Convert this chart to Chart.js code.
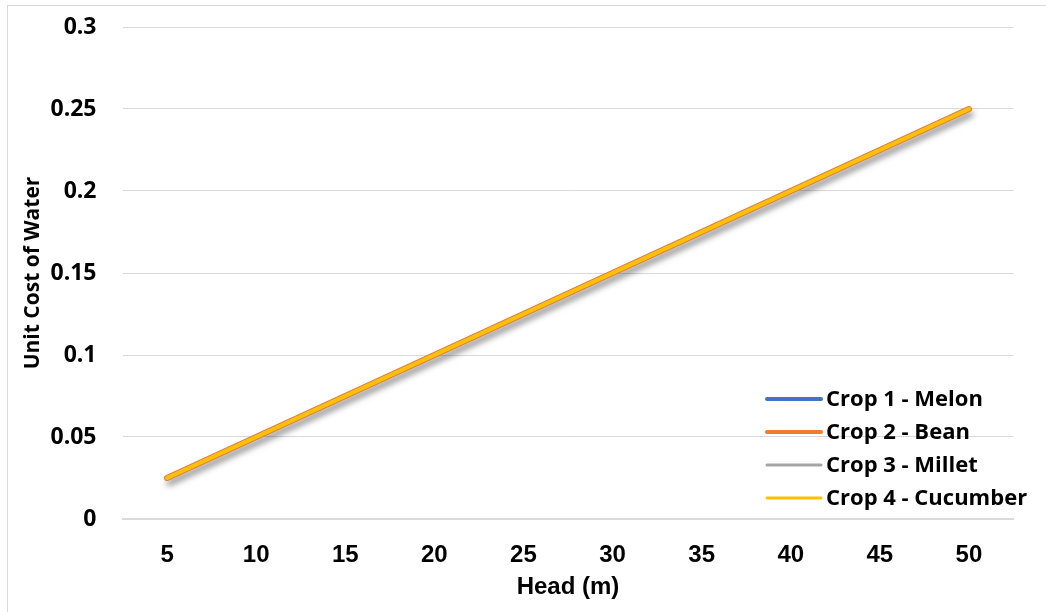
<!DOCTYPE html>
<html>
<head>
<meta charset="utf-8">
<script src="https://cdn.jsdelivr.net/npm/chart.js@4"></script>
<style>
  html, body { margin: 0; padding: 0; background: #fff; }
  #wrap { position: absolute; left: 0; top: 0; width: 1046px; height: 612px; overflow: hidden; }
  #frame { position: absolute; left: 7px; top: 5px; width: 1050px; height: 620px; border: 1px solid #d9d9d9; box-sizing: border-box; }
  canvas { position: absolute; left: 0; top: 0; }
</style>
</head>
<body>
<div id="wrap">
  <div id="frame"></div>
  <canvas id="c" width="1046" height="612"></canvas>
</div>
<script>
const heads = ["5", "10", "15", "20", "25", "30", "35", "40", "45", "50"];
const melon = [0.025, 0.05, 0.075, 0.1, 0.125, 0.15, 0.175, 0.2, 0.225, 0.25];
const bean = [0.025, 0.05, 0.075, 0.1, 0.125, 0.15, 0.175, 0.2, 0.225, 0.25];
const millet = [0.025, 0.05, 0.075, 0.1, 0.125, 0.15, 0.175, 0.2, 0.225, 0.25];
const cucumber = [0.025, 0.05, 0.075, 0.1, 0.125, 0.15, 0.175, 0.2, 0.225, 0.25];
const seriesNames = ["Crop 1 - Melon", "Crop 2 - Bean", "Crop 3 - Millet", "Crop 4 - Cucumber"];
const yTicks = [0, 0.05, 0.1, 0.15, 0.2, 0.25, 0.3];

const colors = ["#4472C4", "#ED7D31", "#A5A5A5", "#FFC000"];
const widths = [5, 6, 4, 4];
const legendWidths = [4, 4, 3, 3];
const narrowFont = "'Liberation Sans Narrow', 'Arial Narrow', 'Liberation Sans', sans-serif";
const mainFont = "'Open Sans', Lato, sans-serif";

const shadowPlugin = {
  id: 'shadow',
  beforeDatasetDraw(chart, args) {
    if (args.index === 0) {
      const ctx = chart.ctx;
      ctx.save();
      ctx.shadowColor = 'rgba(0,0,0,0.5)';
      ctx.shadowBlur = 6;
      ctx.shadowOffsetX = 2;
      ctx.shadowOffsetY = 5;
    }
  },
  afterDatasetDraw(chart, args) {
    if (args.index === 0) chart.ctx.restore();
  }
};

const legendPlugin = {
  id: 'insideLegend',
  afterDraw(chart) {
    const ctx = chart.ctx;
    ctx.save();
    const x0 = 767, x1 = 821, tx = 826;
    const y0 = 399, dy = 33;
    ctx.font = "bold 22px " + mainFont;
    ctx.textBaseline = 'middle';
    chart.data.datasets.forEach((ds, i) => {
      const y = y0 + i * dy;
      ctx.strokeStyle = ds.borderColor;
      ctx.lineWidth = legendWidths[i];
      ctx.lineCap = 'round';
      ctx.beginPath();
      ctx.moveTo(x0, y);
      ctx.lineTo(x1, y);
      ctx.stroke();
      ctx.fillStyle = '#000';
      ctx.fillText(ds.label, tx, y + 1);
    });
    ctx.restore();
  }
};

const datasets = [melon, bean, millet, cucumber].map((d, i) => ({
  label: seriesNames[i],
  data: d,
  order: 3 - i,
  borderColor: colors[i],
  backgroundColor: colors[i],
  borderWidth: widths[i],
  pointRadius: 0,
  pointHoverRadius: 0,
  tension: 0,
  borderCapStyle: 'round',
  fill: false
}));

new Chart(document.getElementById('c'), {
  type: 'line',
  data: { labels: heads, datasets },
  plugins: [shadowPlugin, legendPlugin],
  options: {
    responsive: false,
    animation: false,
    devicePixelRatio: 1,
    layout: { padding: { left: 20, right: 32.5, top: 27, bottom: 0 } },
    plugins: { legend: { display: false }, tooltip: { enabled: false } },
    scales: {
      x: {
        offset: true,
        grid: { display: false, drawTicks: false },
        border: { display: true, color: '#d9d9d9', width: 2 },
        ticks: {
          color: '#000',
          padding: 22,
          font: { family: narrowFont, weight: 'bold', size: 24 },
          maxRotation: 0
        },
        title: {
          display: true,
          text: 'Head (m)',
          color: '#000',
          padding: { top: 0, bottom: 10 },
          font: { family: narrowFont, weight: 'bold', size: 24 }
        },
        afterFit(scale) { scale.height = 93; }
      },
      y: {
        min: 0,
        max: 0.3,
        afterBuildTicks(scale) { scale.ticks = yTicks.map(v => ({ value: v })); },
        grid: { color: '#d9d9d9', lineWidth: 1, drawTicks: false },
        border: { display: false },
        ticks: {
          color: '#000',
          padding: 26,
          font: { family: mainFont, weight: 'bold', size: 23 },
          callback: v => String(v)
        },
        title: {
          display: true,
          text: 'Unit Cost of Water',
          color: '#000',
          padding: { top: 0, bottom: 0 },
          font: { family: mainFont, weight: 'bold', size: 21 }
        },
        afterFit(scale) {
          scale.width = 102.5;
          scale.paddingTop = 0;
          scale.paddingBottom = 0;
        }
      }
    }
  }
});
</script>
</body>
</html>
